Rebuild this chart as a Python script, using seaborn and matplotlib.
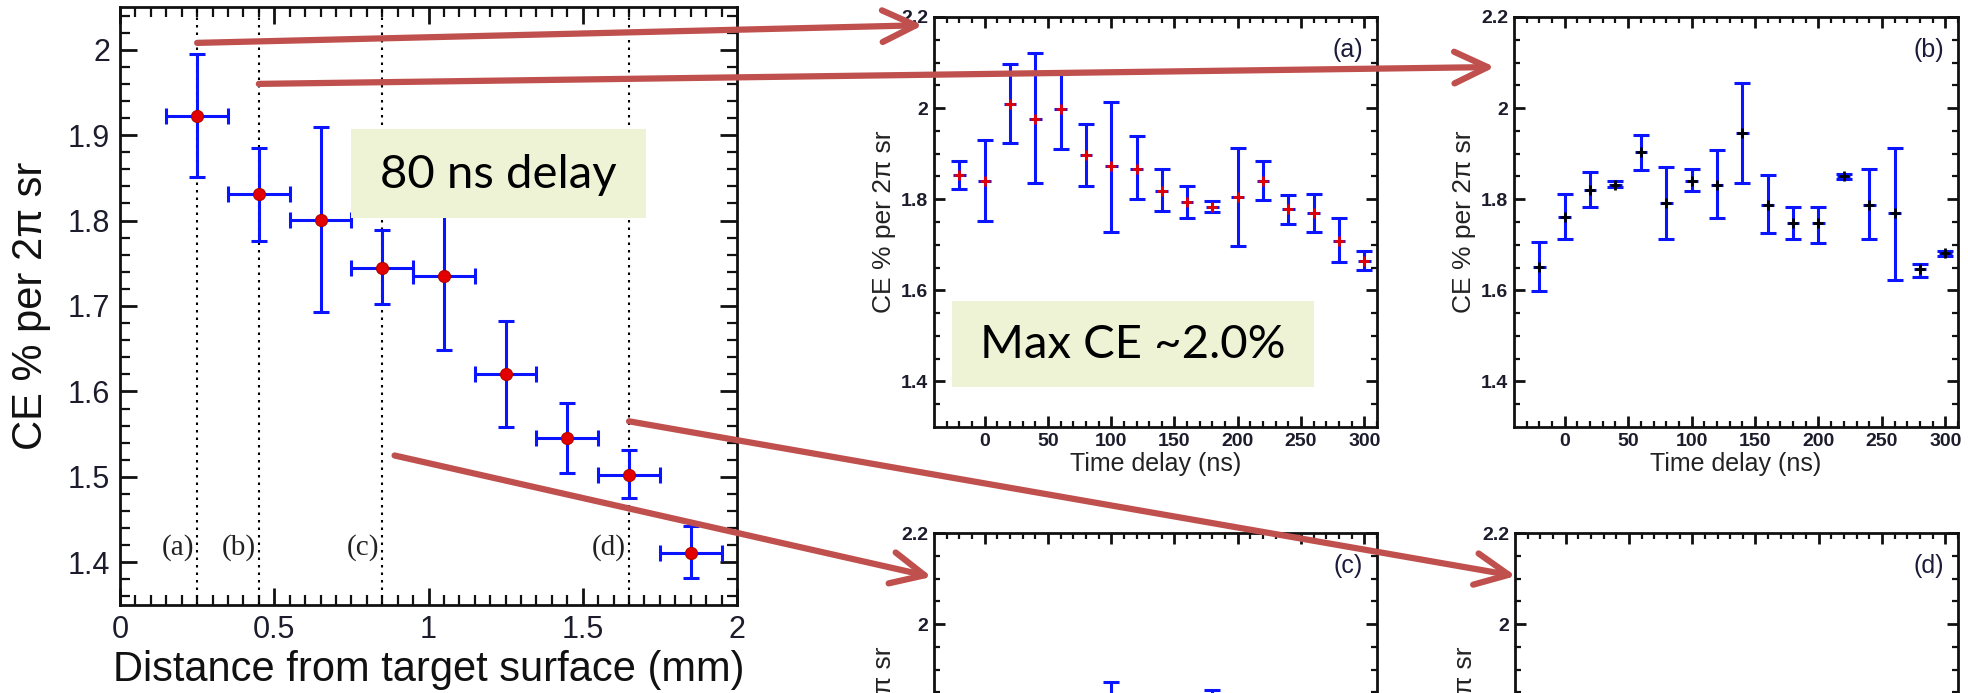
import numpy as np
import pandas as pd
import matplotlib
matplotlib.use('Agg')
import matplotlib.pyplot as plt
import seaborn as sns
from matplotlib.patches import Rectangle, ConnectionPatch
from matplotlib.ticker import FixedLocator, FuncFormatter, NullFormatter

# ---------------- data ----------------
# main panel : CE vs distance from target surface (80 ns delay)
distance_mm = [0.25, 0.45, 0.65, 0.85, 1.05, 1.25, 1.45, 1.65, 1.85]
distance_halfwidth = [0.1, 0.1, 0.1, 0.1, 0.1, 0.1, 0.1, 0.1, 0.1]
ce_main = [1.922, 1.831, 1.801, 1.745, 1.735, 1.620, 1.545, 1.502, 1.411]
ce_main_low = [1.851, 1.776, 1.693, 1.702, 1.648, 1.558, 1.504, 1.475, 1.382]
ce_main_high = [1.995, 1.885, 1.910, 1.789, 1.820, 1.683, 1.587, 1.531, 1.442]
guide_mm = [0.25, 0.45, 0.85, 1.65]
guide_labels = ['(a)', '(b)', '(c)', '(d)']

# sub panels : CE vs time delay
time_ns = [-20, 0, 20, 40, 60, 80, 100, 120, 140, 160, 180, 200, 220, 240, 260, 280, 300]
ce_a = [1.854, 1.839, 2.010, 1.977, 1.998, 1.896, 1.872, 1.867, 1.819, 1.794, 1.784, 1.805,
        1.841, 1.778, 1.769, 1.709, 1.665]
ce_a_low = [1.823, 1.753, 1.923, 1.835, 1.911, 1.829, 1.729, 1.800, 1.775, 1.758, 1.772, 1.698,
            1.799, 1.745, 1.729, 1.663, 1.645]
ce_a_high = [1.883, 1.930, 2.097, 2.121, 2.075, 1.966, 2.013, 1.938, 1.866, 1.830, 1.795, 1.912,
             1.883, 1.810, 1.811, 1.758, 1.687]
ce_b = [1.651, 1.761, 1.821, 1.832, 1.904, 1.792, 1.841, 1.832, 1.945, 1.788, 1.747, 1.747,
        1.850, 1.788, 1.770, 1.646, 1.681]
ce_b_low = [1.599, 1.712, 1.782, 1.826, 1.865, 1.712, 1.818, 1.758, 1.836, 1.725, 1.712, 1.704,
            1.845, 1.712, 1.623, 1.629, 1.675]
ce_b_high = [1.707, 1.812, 1.860, 1.839, 1.942, 1.871, 1.866, 1.907, 2.055, 1.854, 1.782, 1.782,
             1.855, 1.867, 1.912, 1.658, 1.686]
# panel (c): only the upper caps of two bars are visible in the cropped picture
time_c = [100, 180]
ce_c = [1.790, 1.800]
ce_c_low = [1.707, 1.745]
ce_c_high = [1.873, 1.855]
time_d = []
ce_d = []

main_xticks = [0, 0.5, 1, 1.5, 2]
main_yticks = [1.4, 1.5, 1.6, 1.7, 1.8, 1.9, 2.0]
sub_xticks = [0, 50, 100, 150, 200, 250, 300]
sub_yticks = [1.4, 1.6, 1.8, 2.0, 2.2]
cropped_yticks = [2.0, 2.2]

# ---------------- style ----------------
sns.set_theme(style='ticks')
plt.rcParams['font.family'] = ['Liberation Sans', 'DejaVu Sans']
plt.rcParams['axes.linewidth'] = 2.0
plt.rcParams['axes.edgecolor'] = '#111111'

BLUE = '#0a14ff'
RED = '#e30000'
ARROW = '#c0504d'
BOX = '#eef3d6'
TICKCOL = '#1c1c2c'
fmt = FuncFormatter(lambda v, p: f'{v:g}')

fig = plt.figure(figsize=(19.68, 6.93), dpi=100)

# ---------------- main panel ----------------
ax = fig.add_axes([0.06098, 0.12699, 0.31352, 0.86291])
dfm = pd.DataFrame({'d': distance_mm, 'ce': ce_main, 'lo': ce_main_low, 'hi': ce_main_high,
                    'xe': distance_halfwidth})
for g in guide_mm:
    ax.axvline(g, color='black', lw=1.5, ls=(0, (1.2, 2.4)), zorder=1)
ax.errorbar(dfm['d'], dfm['ce'], yerr=[dfm['ce'] - dfm['lo'], dfm['hi'] - dfm['ce']],
            xerr=dfm['xe'], fmt='none', ecolor=BLUE, elinewidth=2.2, capsize=6, capthick=2.2,
            zorder=3)
sns.scatterplot(data=dfm, x='d', y='ce', ax=ax, color=RED, s=75, edgecolor='#b00000',
                linewidth=0.8, zorder=4, legend=False)
for g, lab in zip(guide_mm, guide_labels):
    ax.text(g - 0.01, 1.417, lab, ha='right', va='center', fontsize=21,
            family=['Liberation Serif', 'DejaVu Serif'], color='#222222', zorder=2)
ax.add_patch(Rectangle((0.75, 1.803), 0.955, 0.104, facecolor=BOX, edgecolor='none', zorder=6))
ax.text(1.227, 1.853, '80 ns delay', ha='center', va='center', fontsize=34,
        family=['Lato', 'DejaVu Sans'], color='black', zorder=7)
ax.set_xlim(0, 2)
ax.set_ylim(1.35, 2.05)
ax.xaxis.set_major_locator(FixedLocator(main_xticks))
ax.yaxis.set_major_locator(FixedLocator(main_yticks))
ax.xaxis.set_minor_locator(FixedLocator(np.arange(0, 2.001, 0.05)))
ax.yaxis.set_minor_locator(FixedLocator(np.arange(1.36, 2.041, 0.02)))
ax.xaxis.set_major_formatter(fmt)
ax.yaxis.set_major_formatter(fmt)
ax.tick_params(which='both', direction='in', top=True, right=True, colors='#111111',
               labelcolor=TICKCOL)
ax.tick_params(which='major', length=12, width=2, labelsize=22, pad=7)
ax.tick_params(which='minor', length=7, width=1.6)
ax.set_xlabel('Distance from target surface (mm)', fontsize=30, labelpad=4, color='#111111')
ax.set_ylabel('CE % per 2π sr', fontsize=30, labelpad=12, color='#111111')
ax.set_facecolor('white')


# ---------------- sub panels ----------------
def sub_panel(rect, t, ce, lo, hi, mcolor, label, cropped=False):
    a = fig.add_axes(rect)
    if len(t):
        df = pd.DataFrame({'t': t, 'ce': ce, 'lo': lo, 'hi': hi})
        a.errorbar(df['t'], df['ce'], yerr=[df['ce'] - df['lo'], df['hi'] - df['ce']],
                   fmt='none', ecolor=BLUE, elinewidth=2.2, capsize=6, capthick=2.2, zorder=3)
        a.errorbar(df['t'], df['ce'], xerr=5, fmt='none', ecolor=BLUE, elinewidth=2.2,
                   capsize=0, zorder=3)
        sns.scatterplot(data=df, x='t', y='ce', ax=a, marker='+', color=mcolor, s=60,
                        linewidth=2, zorder=4, legend=False)
    a.set_xlim(-40, 310)
    a.set_ylim(1.3, 2.2)
    a.xaxis.set_major_locator(FixedLocator(sub_xticks))
    a.yaxis.set_major_locator(FixedLocator(sub_yticks))
    a.xaxis.set_minor_locator(FixedLocator(np.arange(-30, 311, 10)))
    a.yaxis.set_minor_locator(FixedLocator(np.arange(1.35, 2.2, 0.05)))
    a.tick_params(which='both', direction='in', top=True, right=True, colors='#111111',
                  labelcolor=TICKCOL)
    a.tick_params(which='major', length=8, width=2, labelsize=14, pad=4)
    a.tick_params(which='minor', length=4.5, width=1.6)
    if cropped:
        # the picture is cut below y~1.85, so only the top labels show
        a.yaxis.set_major_formatter(FuncFormatter(
            lambda v, p: f'{v:g}' if any(abs(v - c) < 1e-9 for c in cropped_yticks) else ''))
        a.xaxis.set_major_formatter(NullFormatter())
        a.set_xlabel('')
    else:
        a.xaxis.set_major_formatter(fmt)
        a.yaxis.set_major_formatter(fmt)
        a.set_xlabel('Time delay (ns)', fontsize=18, labelpad=2, color='#222222')
    for tl in a.get_xticklabels() + a.get_yticklabels():
        tl.set_family(['Liberation Sans Narrow', 'Liberation Sans'])
        tl.set_fontweight('bold')
    a.set_ylabel('CE % per 2π sr', fontsize=19, labelpad=4, color='#222222')
    a.text(0.968, 0.92, label, transform=a.transAxes, ha='right', va='center', fontsize=18,
           color='#1c1c3a')
    a.set_facecolor('white')
    return a


ax_a = sub_panel([0.47459, 0.38384, 0.22510, 0.59163], time_ns, ce_a, ce_a_low, ce_a_high,
                 RED, '(a)')
ax_b = sub_panel([0.76931, 0.38384, 0.22560, 0.59163], time_ns, ce_b, ce_b_low, ce_b_high,
                 'black', '(b)')
ax_c = sub_panel([0.47459, 0.23088 - 0.59163, 0.22510, 0.59163], time_c, ce_c, ce_c_low,
                 ce_c_high, RED, '(c)', cropped=True)
ax_d = sub_panel([0.76982, 0.23088 - 0.59163, 0.22510, 0.59163], time_d, ce_d, ce_d, ce_d,
                 'black', '(d)', cropped=True)

ax_a.add_patch(Rectangle((-26, 1.388), 286.5, 0.189, facecolor=BOX, edgecolor='none', zorder=6))
ax_a.text(117, 1.480, 'Max CE ~2.0%', ha='center', va='center', fontsize=34,
          family=['Lato', 'DejaVu Sans'], color='black', zorder=7)

# ---------------- arrows ----------------
arrow_links = [
    ((0.25, 2.008), ax_a, (-0.025, 0.98)),
    ((0.45, 1.960), ax_b, (-0.043, 0.878)),
    ((1.65, 1.565), ax_d, (0.002, 0.895)),
    ((0.89, 1.525), ax_c, (-0.005, 0.893)),
]
for xyA, target, xyB in arrow_links:
    con = ConnectionPatch(xyA=xyA, coordsA=ax.transData, xyB=xyB, coordsB=target.transAxes,
                          arrowstyle='->,head_length=0.8,head_width=0.38', mutation_scale=30,
                          lw=4.5, color=ARROW, shrinkA=0, shrinkB=0, zorder=20,
                          annotation_clip=False, capstyle='round')
    fig.add_artist(con)

fig.savefig('out.png', dpi=100, facecolor='white')
